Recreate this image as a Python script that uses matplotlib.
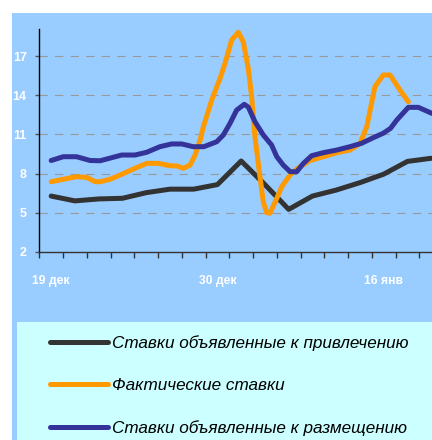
import matplotlib
matplotlib.use("Agg")
import matplotlib.pyplot as plt
from matplotlib.patches import Rectangle
import numpy as np

# ---- data ----
cat_labels = ['19 дек', '30 дек', '16 янв']
cat_label_pos = [0, 7, 14]
n_cats = 17

# Ставки объявленные к привлечению (one value per category)
attract = [6.27, 5.9, 6.05, 6.1, 6.53, 6.8, 6.8, 7.15, 8.96, 7.15, 5.25,
           6.27, 6.73, 7.3, 7.95, 8.93, 9.17]

# Фактические ставки (time position in category units, value)
fact_t = [0, 0.51, 1.07, 1.5, 1.85, 2.06, 2.48, 2.97, 3.53, 4.02, 4.51, 5.0,
          5.29, 5.56, 5.85, 6.06, 6.27, 6.41, 6.76, 7.11, 7.32, 7.6, 7.88,
          8.09, 8.3, 8.44, 8.58, 8.79, 8.93, 9.07, 9.21, 9.5, 9.71, 10.06,
          10.34, 10.9, 11.46, 12.02, 12.58, 13.0, 13.29, 13.63, 13.98, 14.27,
          14.69, 15.04]
fact_v = [7.37, 7.56, 7.76, 7.7, 7.37, 7.37, 7.56, 7.94, 8.4, 8.78, 8.78, 8.6,
          8.58, 8.4, 8.65, 9.42, 10.57, 11.6, 13.64, 15.3, 16.46, 18.25, 18.84,
          18.1, 16.07, 13.9, 10.83, 7.76, 5.84, 5.0, 4.95, 6.1, 6.99, 7.9,
          8.35, 9.0, 9.29, 9.6, 9.8, 10.3, 11.6, 14.66, 15.56, 15.56,
          14.4, 13.5]

# Ставки объявленные к размещению
place_t = [0, 0.51, 1.07, 1.64, 2.06, 2.97, 3.53, 4.02, 4.58, 5.07, 5.5, 5.98,
           6.43, 6.97, 7.25, 7.53, 7.81, 8.13, 8.3, 8.58, 8.93, 9.28, 9.5,
           9.77, 10.06, 10.34, 10.62, 10.97, 11.46, 12.02, 12.58, 13.07, 13.56,
           13.98, 14.29, 14.55, 15.04, 15.46, 16.03]
place_v = [9.0, 9.29, 9.29, 9.0, 8.98, 9.42, 9.42, 9.63, 10.06, 10.27, 10.27,
           10.06, 10.06, 10.44, 10.96, 11.85, 12.87, 13.31, 13.1, 11.98, 10.96,
           10.19, 9.29, 8.65, 8.14, 8.14, 8.78, 9.37, 9.6, 9.8, 10.06, 10.32,
           10.75, 11.09, 11.47, 12.1, 13.08, 13.08, 12.62]

y_ticks = [2, 5, 8, 11, 14, 17]
series_names = ['Ставки объявленные к привлечению', 'Фактические ставки',
                'Ставки объявленные к размещению']
colors = ['#333333', '#FF9900', '#333399']

# ---- figure ----
W, H = 432, 440
fig = plt.figure(figsize=(W / 100, H / 100), dpi=100)
fig.patch.set_facecolor('white')

# background panels
fig.patches.append(Rectangle((12 / W, 0), 1 - 12 / W, 1 - 13 / H,
                             transform=fig.transFigure, facecolor='#99CCFF',
                             edgecolor='none', zorder=-20))
fig.patches.append(Rectangle((17 / W, 0), 1 - 17 / W, (H - 322) / H,
                             transform=fig.transFigure, facecolor='#CCFFFF',
                             edgecolor='none', zorder=-19))

ax_left = 39.3 / W
ax_bottom = (H - 251.7) / H
ax_top = (H - 29.3) / H
ax = fig.add_axes([ax_left, ax_bottom, 1 - ax_left, ax_top - ax_bottom])
ax.set_facecolor('none')
ax.set_zorder(1)

lw = 3.6
l1, = ax.plot(np.arange(n_cats), attract, color=colors[0], lw=lw,
              solid_joinstyle='round', solid_capstyle='round', zorder=3,
              label=series_names[0])
l2, = ax.plot(fact_t, fact_v, color=colors[1], lw=lw,
              solid_joinstyle='round', solid_capstyle='round', zorder=4,
              label=series_names[1])
l3, = ax.plot(place_t, place_v, color=colors[2], lw=lw,
              solid_joinstyle='round', solid_capstyle='round', zorder=5,
              label=series_names[2])

# grid
for yv in y_ticks[1:]:
    ax.axhline(yv, color='#999999', lw=0.8, linestyle=(0, (7.5, 6.5)), zorder=1)

ax.spines['top'].set_visible(False)
ax.spines['right'].set_visible(False)
ax.spines['left'].set_color('black')
ax.spines['left'].set_linewidth(1.0)
ax.spines['bottom'].set_color('#333333')
ax.spines['bottom'].set_linewidth(1.0)

ax.set_yticks(y_ticks)
ax.set_yticklabels([str(v) for v in y_ticks])
ax.tick_params(axis='y', direction='out', length=3, width=1, color='#555555',
               pad=6, labelcolor='white', labelsize=9)
for t in ax.get_yticklabels():
    t.set_fontweight('bold')
    t.set_family('Liberation Sans')

ax.set_xticks(np.arange(n_cats + 1) - 0.5)
ax.set_xticklabels([])
ax.tick_params(axis='x', which='major', direction='out', length=4, width=1,
               color='#333333')
ax.set_xticks(cat_label_pos, minor=True)
ax.set_xticklabels(cat_labels, minor=True)
ax.tick_params(axis='x', which='minor', length=0, pad=17, labelcolor='white',
               labelsize=8.7)
for t in ax.get_xticklabels(minor=True):
    t.set_fontweight('bold')
    t.set_family('Liberation Sans')

# limits after ticks so set_xticks does not widen the view
ax.set_xlim(-0.5, (W - 39.3) / 23.75 - 0.5)
ax.set_ylim(2, 19.07)

leg = fig.legend(handles=[l1, l2, l3], labels=series_names,
                 loc='upper left', bbox_to_anchor=(50 / W, 1 - 335 / H),
                 frameon=False, borderpad=0, borderaxespad=0,
                 handlelength=3.4, handletextpad=0.2, labelspacing=1.6,
                 prop={'family': ['Liberation Sans', 'DejaVu Sans'],
                       'style': 'italic', 'size': 12.3})

fig.savefig('out.png', dpi=100, facecolor='white')
